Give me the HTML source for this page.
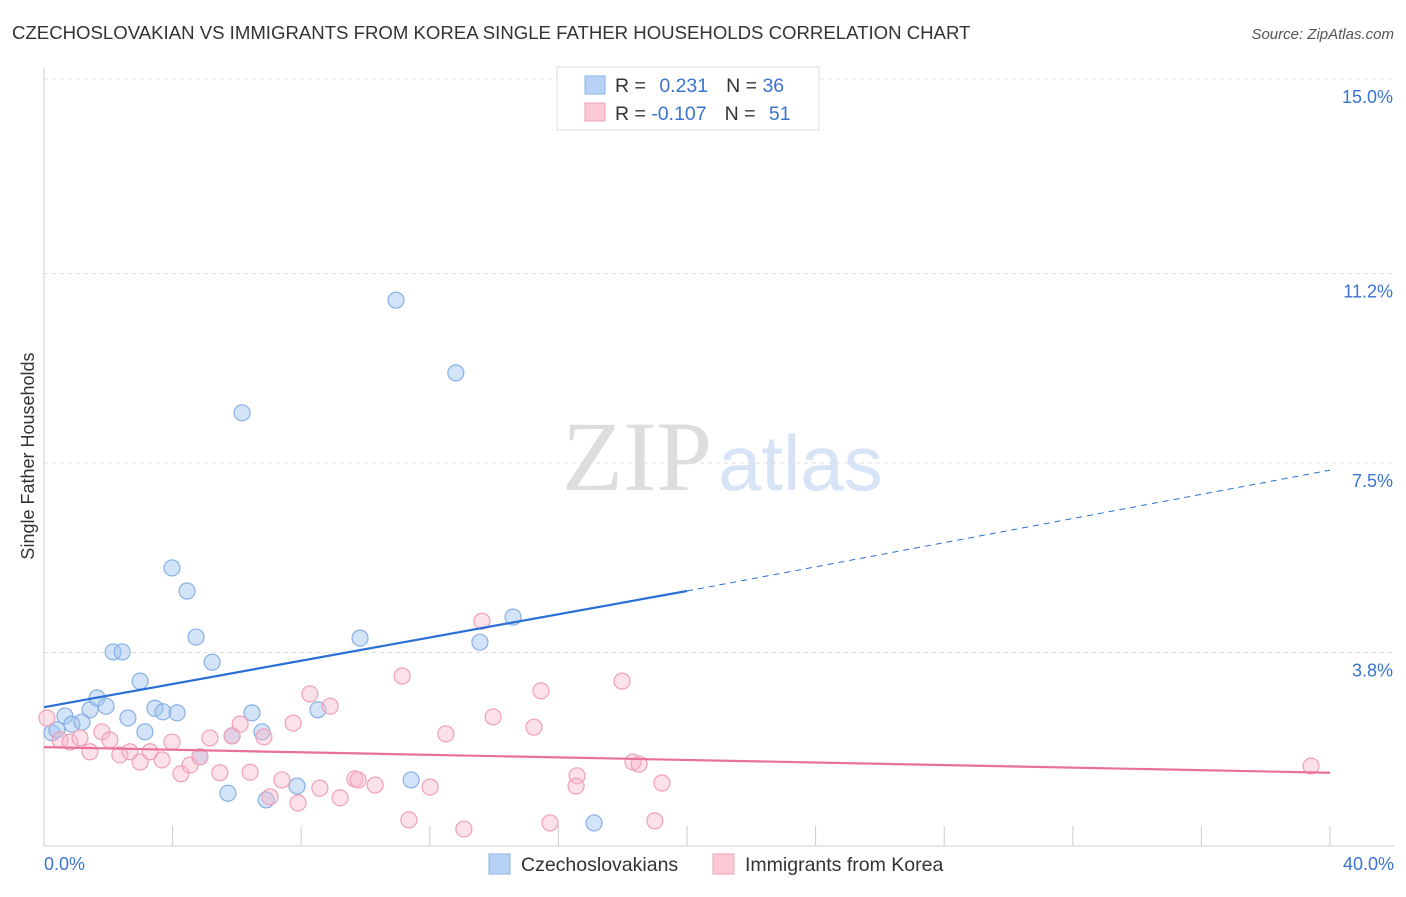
<!DOCTYPE html>
<html><head><meta charset="utf-8"><style>
body{margin:0;background:#fff;font-family:"Liberation Sans",sans-serif;}
svg text{font-family:"Liberation Sans",sans-serif;}
</style></head><body>
<svg width="1406" height="892" id="svg">
<text x="12" y="39" font-size="18.6" fill="#333">CZECHOSLOVAKIAN VS IMMIGRANTS FROM KOREA SINGLE FATHER HOUSEHOLDS CORRELATION CHART</text>
<text x="1394" y="39" font-size="15" fill="#555" text-anchor="end" font-style="italic">Source: ZipAtlas.com</text>
<text x="712" y="490" font-size="100" fill="#ddd" text-anchor="end" style="font-family:'Liberation Serif',serif">ZIP</text>
<text x="718" y="490" font-size="78" fill="#d6e4f6">atlas</text>
<g id="grid"></g>
<line x1="44" y1="68" x2="44" y2="846" stroke="#ccc"/>
<line x1="44" y1="846" x2="1394" y2="846" stroke="#ccc"/>
<text x="34" y="456" font-size="18" fill="#333" text-anchor="middle" transform="rotate(-90 34 456)">Single Father Households</text>
<text x="44" y="870" font-size="18" fill="#3a74d0">0.0%</text>
<text x="1394" y="870" font-size="18" fill="#3a74d0" text-anchor="end">40.0%</text>
<g id="marks"></g>
<g>
<rect x="557" y="67" width="262" height="63" fill="#fff" stroke="#ddd"/>
<rect x="585" y="76" width="20" height="18" fill="#b8d2f5" stroke="#8ab4e8"/>
<rect x="585" y="103" width="20" height="18" fill="#fbc8d6" stroke="#f0a0b8"/>
<text x="615" y="92" font-size="19.5" fill="#333">R = <tspan fill="#3a74d0" dx="8">0.231</tspan><tspan dx="18">N = </tspan><tspan fill="#3a74d0">36</tspan></text>
<text x="615" y="120" font-size="19.5" fill="#333">R = <tspan fill="#3a74d0">-0.107</tspan><tspan dx="18">N = </tspan><tspan fill="#3a74d0" dx="8">51</tspan></text>
</g>
<g>
<rect x="489" y="854" width="21" height="20" fill="#b8d2f5" stroke="#8ab4e8"/>
<text x="521" y="871" font-size="19.5" fill="#333">Czechoslovakians</text>
<rect x="713" y="854" width="21" height="20" fill="#fbc8d6" stroke="#f0a0b8"/>
<text x="745" y="871" font-size="19.5" fill="#333">Immigrants from Korea</text>
</g>
</svg>
<script>
const yTicks=[15.0,11.2,7.5,3.8];
const yTickLabels=["15.0%","11.2%","7.5%","3.8%"];
const blueX=[0.25,0.40,0.65,0.87,1.18,1.43,1.65,1.93,2.15,2.43,2.61,2.99,3.14,3.45,3.70,3.98,4.14,4.45,4.73,4.85,5.23,5.72,5.85,6.47,6.78,6.91,7.87,8.52,9.83,10.95,11.42,12.81,13.56,14.59,17.11,6.16];
const blueY=[2.23,2.29,2.56,2.40,2.44,2.68,2.91,2.75,3.81,3.81,2.52,3.24,2.25,2.71,2.64,5.45,2.62,5.00,4.10,1.76,3.61,1.05,2.17,2.62,2.25,0.92,1.19,2.68,4.08,10.68,1.31,9.26,4.00,4.49,0.47,8.48];
const pinkX=[0.09,0.50,0.81,1.12,1.43,1.80,2.05,2.36,2.67,2.99,3.30,3.67,3.98,4.26,4.54,4.85,5.16,5.47,5.85,6.10,6.41,6.84,7.03,7.40,7.75,7.90,8.27,8.58,8.90,9.21,9.67,9.77,10.30,11.14,11.35,12.01,12.50,13.06,13.62,13.97,15.24,15.46,15.74,16.58,16.55,17.98,18.32,18.51,19.00,19.22,39.41];
const pinkY=[2.52,2.09,2.05,2.13,1.86,2.25,2.09,1.80,1.86,1.66,1.86,1.70,2.05,1.43,1.60,1.76,2.13,1.45,2.17,2.40,1.46,2.15,0.98,1.31,2.42,0.86,2.99,1.15,2.75,0.96,1.33,1.31,1.21,3.34,0.53,1.17,2.21,0.35,4.41,2.54,2.34,3.05,0.47,1.39,1.19,3.24,1.66,1.62,0.51,1.25,1.58];
const blueTrend=[2.73,5.0,7.36];
const pinkTrend=[1.95,1.45];
const NS='http://www.w3.org/2000/svg';
const sx=v=>44+v*(1330-44)/40;
const sy=v=>847-v*51.2;
function mk(t,a,p){const e=document.createElementNS(NS,t);for(const k in a)e.setAttribute(k,a[k]);p.appendChild(e);return e;}
const grid=document.getElementById('grid'),marks=document.getElementById('marks'),svg=document.getElementById('svg');
yTicks.forEach((v,i)=>{
 const l=mk('line',{x1:44,x2:1394,y1:sy(v),y2:sy(v),stroke:'#ddd','stroke-dasharray':'4,4'},grid);
 
 
 const t=mk('text',{x:1393,y:sy(v)+24,'font-size':18,fill:'#3a74d0','text-anchor':'end'},grid);
 t.textContent=yTickLabels[i];
 
 
});
for(let i=1;i<=10;i++){
 const l=mk('line',{x1:sx(i*4),x2:sx(i*4),y1:826,y2:846,stroke:'#ccc'},grid);
 
 
}
blueX.forEach((x,i)=>{
 const c=mk('circle',{cx:sx(x),cy:sy(blueY[i]),r:8,fill:'rgba(160,196,240,0.45)',stroke:'#86b0e6','stroke-width':1.2},marks);
 
 
});
pinkX.forEach((x,i)=>{
 const c=mk('circle',{cx:sx(x),cy:sy(pinkY[i]),r:8,fill:'rgba(248,180,200,0.4)',stroke:'#f0a0b8','stroke-width':1.2},marks);
 
 
});
let l=mk('line',{x1:sx(0),y1:sy(blueTrend[0]),x2:sx(20),y2:sy(blueTrend[1]),stroke:'#2a6fd6','stroke-width':2.2},svg);


l=mk('line',{x1:sx(20),y1:sy(blueTrend[1]),x2:sx(40),y2:sy(blueTrend[2]),stroke:'#2a6fd6','stroke-width':1,'stroke-dasharray':'6,5'},svg);


l=mk('line',{x1:sx(0),y1:sy(pinkTrend[0]),x2:sx(40),y2:sy(pinkTrend[1]),stroke:'#e8709a','stroke-width':2.2},svg);


</script>
</body></html>
